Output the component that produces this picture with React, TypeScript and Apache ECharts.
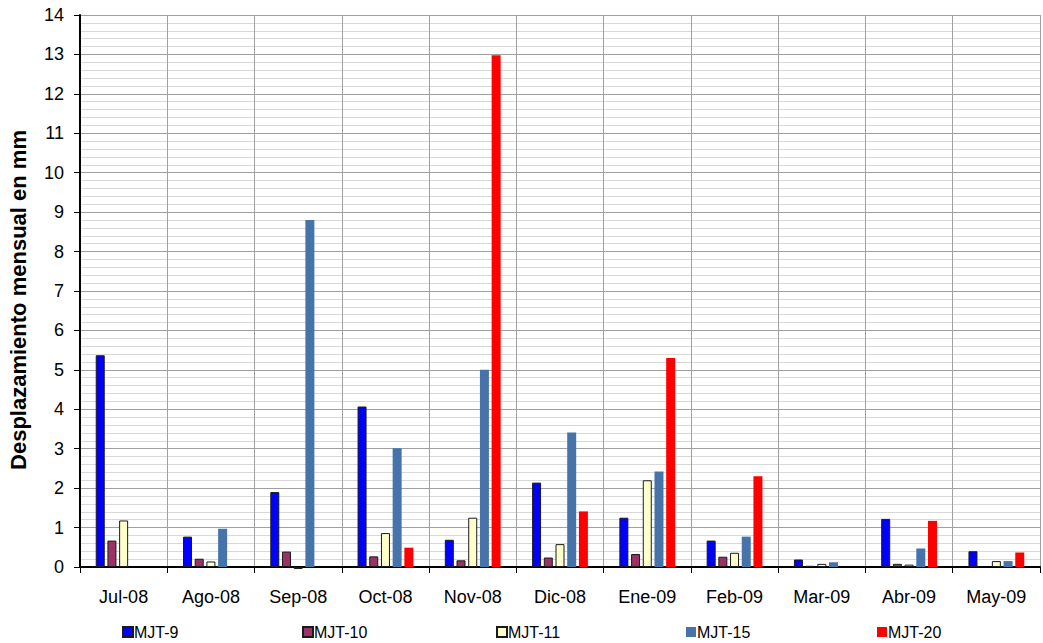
import React, { useEffect, useRef } from "react";
import * as echarts from "echarts";

const categories = ["Jul-08", "Ago-08", "Sep-08", "Oct-08", "Nov-08", "Dic-08", "Ene-09", "Feb-09", "Mar-09", "Abr-09", "May-09"];
const mjt9 = [5.37, 0.77, 1.9, 4.07, 0.69, 2.14, 1.25, 0.67, 0.19, 1.22, 0.4];
const mjt10 = [0.67, 0.21, 0.39, 0.27, 0.17, 0.24, 0.33, 0.26, 0.03, 0.08, null];
const mjt11 = [1.18, 0.14, -0.05, 0.86, 1.25, 0.58, 2.2, 0.36, 0.08, 0.06, 0.15];
const mjt15 = [null, 0.97, 8.8, 3.01, 5.0, 3.41, 2.42, 0.77, 0.12, 0.47, 0.15];
const mjt20 = [null, null, null, 0.49, 12.98, 1.41, 5.3, 2.3, null, 1.17, 0.37];
const seriesNames = ["MJT-9", "MJT-10", "MJT-11", "MJT-15", "MJT-20"];
const seriesValues = [mjt9, mjt10, mjt11, mjt15, mjt20];
const seriesColors = ["#0000FF", "#993366", "#FFFFCC", "#4674AA", "#FF0000"];
const seriesBorders = [true, true, true, false, false];
const legendLefts = [122, 302, 496, 686, 877];
const yAxisTitle = "Desplazamiento mensual en mm";

const FONT = "Liberation Sans, Arial, sans-serif";

export default function App() {
  const ref = useRef<HTMLDivElement>(null);
  useEffect(() => {
    if (!ref.current) return;
    const chart = echarts.init(ref.current, null, { renderer: "svg" });
    chart.setOption({
      animation: false,
      backgroundColor: "#ffffff",
      textStyle: { fontFamily: FONT, color: "#000" },
      grid: { left: 80, right: 3, top: 15, bottom: 76, containLabel: false, outerBoundsMode: "none" },
      legend: seriesNames.map((n, i) => ({
        data: [n],
        left: legendLefts[i],
        top: 624,
        itemWidth: 10,
        itemHeight: 10,
        itemGap: 4,
        icon: "rect",
        textStyle: { fontFamily: FONT, fontSize: 16, color: "#000", padding: [0, 0, 0, -4] },
        padding: 0,
      })),
      graphic: [
        {
          type: "text",
          x: 18,
          y: 300,
          rotation: Math.PI / 2,
          style: {
            text: yAxisTitle,
            fontFamily: FONT,
            fontSize: 22,
            fontWeight: "bold",
            fill: "#000",
            align: "center",
            verticalAlign: "middle",
          },
        },
      ],
      xAxis: {
        type: "category",
        data: categories,
        boundaryGap: true,
        axisLine: { show: true, lineStyle: { color: "#000", width: 2 } },
        axisTick: { show: true, length: 6, lineStyle: { color: "#000", width: 1 } },
        axisLabel: { fontFamily: FONT, fontSize: 18, color: "#000", margin: 21 },
        splitLine: { show: true, lineStyle: { color: "#A0A0A0", width: 1 } },
      },
      yAxis: {
        type: "value",
        min: 0,
        max: 14,
        interval: 1,
        axisLine: { show: true, lineStyle: { color: "#000", width: 2 } },
        axisTick: { show: true, length: 6, inside: false, lineStyle: { color: "#000" } },
        axisLabel: { fontFamily: FONT, fontSize: 18, color: "#000", margin: 16 },
        splitLine: { show: true, lineStyle: { color: "#A0A0A0", width: 1 } },
        minorTick: { show: false, splitNumber: 5 },
        minorSplitLine: { show: true, lineStyle: { color: "#D8D8D8", width: 1 } },
      },
      series: seriesNames.map((n, i) => ({
        name: n,
        type: "bar",
        data: seriesValues[i],
        barWidth: 9,
        barGap: "30%",
        clip: false,
        itemStyle: {
          color: seriesColors[i],
          borderColor: seriesBorders[i] ? "#1a1a1a" : seriesColors[i],
          borderWidth: seriesBorders[i] ? 1 : 0,
        },
      })),
    });
    return () => chart.dispose();
  }, []);
  return (
    <div
      ref={ref}
      style={{ position: "absolute", left: 0, top: 0, width: 1043, height: 643 }}
    />
  );
}
